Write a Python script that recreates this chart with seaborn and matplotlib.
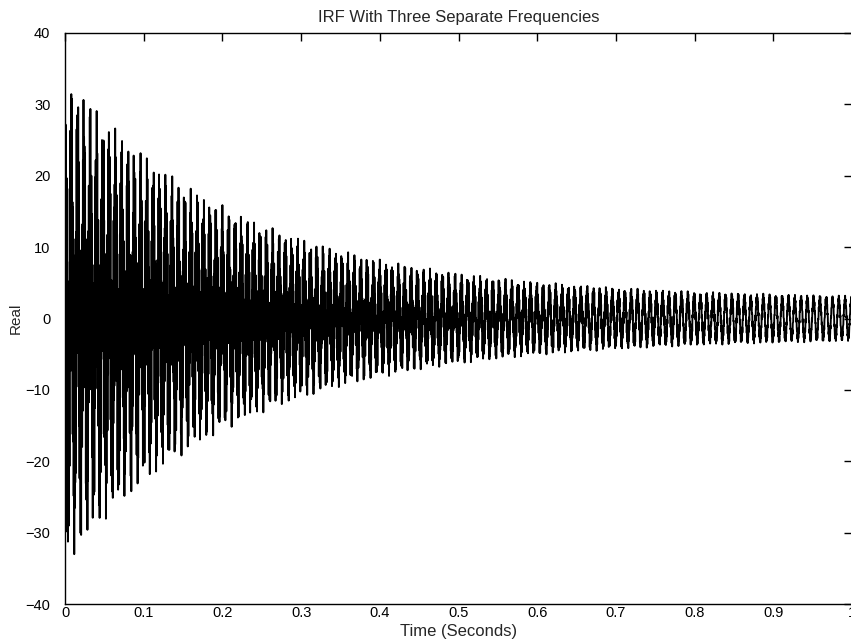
import numpy as np
import pandas as pd
import matplotlib
matplotlib.use("Agg")
import matplotlib.pyplot as plt
import seaborn as sns

# Modal terms of the impulse response
frequencies_hz = [125.0, 125.1, 1490.0]
amplitudes = [12.0, 3.0, 20.0]
decay_rates = [6.0, 0.1, 3.8]
sample_rate_hz = 4000
duration_s = 1.0

x_ticks = [0, 0.1, 0.2, 0.3, 0.4, 0.5, 0.6, 0.7, 0.8, 0.9, 1.0]
x_tick_labels = ["0", "0.1", "0.2", "0.3", "0.4", "0.5", "0.6", "0.7", "0.8", "0.9", "1"]
y_ticks = [-40, -30, -20, -10, 0, 10, 20, 30, 40]
y_tick_labels = ["\u221240", "\u221230", "\u221220", "\u221210", "0", "10", "20", "30", "40"]

t = np.arange(0, duration_s + 1e-9, 1.0 / sample_rate_hz)
y = np.zeros_like(t)
for f, a, d in zip(frequencies_hz, amplitudes, decay_rates):
    y += a * np.exp(-d * t) * np.cos(2 * np.pi * f * t)
df = pd.DataFrame({"Time": t, "Real": y})

sns.set_style("white")
plt.rcParams["font.family"] = ["Liberation Sans", "DejaVu Sans"]

fig = plt.figure(figsize=(8.51, 6.40), dpi=100)
ax = fig.add_axes([65 / 851, 36 / 640, 787 / 851, 571 / 640])
sns.lineplot(data=df, x="Time", y="Real", ax=ax, color="black", linewidth=1.35,
             estimator=None, sort=False)
ax.set_xlim(0, 1)
ax.set_ylim(-40, 40)
ax.set_xticks(x_ticks)
ax.set_xticklabels(x_tick_labels)
ax.set_yticks(y_ticks)
ax.set_yticklabels(y_tick_labels)
ax.tick_params(direction="in", length=6, width=1, top=True, right=True,
               labelsize=10.5, colors="black")
ax.tick_params(axis="x", pad=1.5)
ax.tick_params(axis="y", pad=10.5)
for s in ax.spines.values():
    s.set_color("black")
    s.set_linewidth(1.0)
    s.set_visible(True)
ax.set_xlabel("Time (Seconds)", fontsize=12, labelpad=3)
ax.set_ylabel("Real", fontsize=11, labelpad=2)
ax.set_title("IRF With Three Separate Frequencies", fontsize=12, pad=8)

fig.savefig("out.png", dpi=100, facecolor="white")
